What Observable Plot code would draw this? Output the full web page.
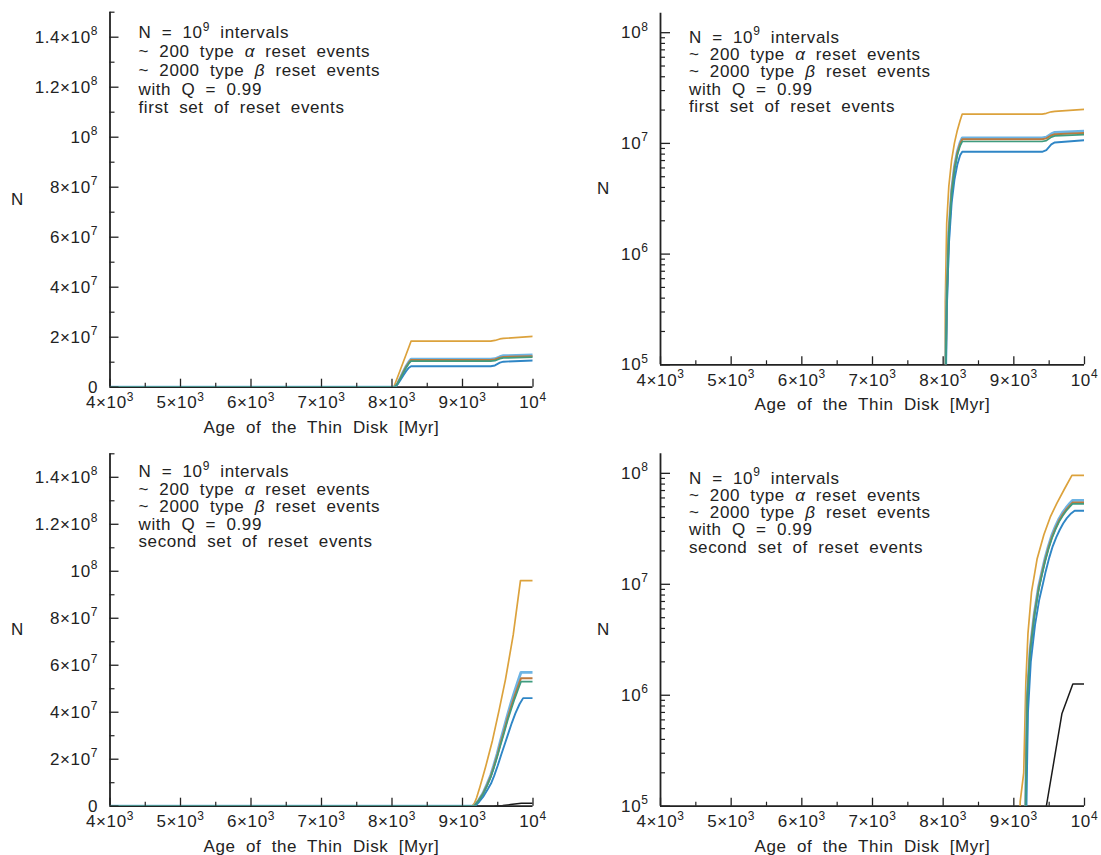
<!DOCTYPE html>
<html><head><meta charset="utf-8">
<script src="https://cdn.jsdelivr.net/npm/d3@7"></script>
<script src="https://cdn.jsdelivr.net/npm/@observablehq/plot@0.6"></script>
<style>
body{margin:0;background:#fff;}
#wrap{position:relative;width:1101px;height:855px;overflow:hidden;background:#fff;}
#wrap svg{position:absolute;overflow:visible;}
</style></head><body><div id="wrap"></div>
<script>
// ---------- tick values & labels ----------
const xMajor = [4000, 5000, 6000, 7000, 8000, 9000, 10000];
const xMajorLabels = ["4×10^3", "5×10^3", "6×10^3", "7×10^3", "8×10^3", "9×10^3", "10^4"];
const xMinor = [4500, 5500, 6500, 7500, 8500, 9500];
const yLinMajor = [0, 2e7, 4e7, 6e7, 8e7, 1e8, 1.2e8, 1.4e8];
const yLinLabels = ["0", "2×10^7", "4×10^7", "6×10^7", "8×10^7", "10^8", "1.2×10^8", "1.4×10^8"];
const yLinMinor = [1e7, 3e7, 5e7, 7e7, 9e7, 1.1e8, 1.3e8, 1.5e8];
const yLogMajor = [1e5, 1e6, 1e7, 1e8];
const yLogLabels = ["10^5", "10^6", "10^7", "10^8"];
const yLogMinor = [2e5,3e5,4e5,5e5,6e5,7e5,8e5,9e5,2e6,3e6,4e6,5e6,6e6,7e6,8e6,9e6,2e7,3e7,4e7,5e7,6e7,7e7,8e7,9e7];
const xDomain = [4000, 10000];
const yLinDomain = [0, 1.5e8];
const yLogDomain = [1e5, 1.5e8];

const xLabel = "Age of the Thin Disk [Myr]";
const yLabel = "N";
const notesFirst = ["N = 10^9 intervals", "~ 200 type α reset events", "~ 2000 type β reset events", "with Q = 0.99", "first set of reset events"];
const notesSecond = ["N = 10^9 intervals", "~ 200 type α reset events", "~ 2000 type β reset events", "with Q = 0.99", "second set of reset events"];

// ---------- first set of reset events ----------
const ages1 = [4000, 8000, 8020, 8030, 8050, 8080, 8120, 8160, 8200, 8240, 8270, 9400, 9460, 9530, 9580, 10000];
const orange1    = [0, 0, 1e3, 3.7e5, 1.9e6, 4.1e6, 7.1e6, 1.01e7, 1.31e7, 1.61e7, 1.84e7, 1.84e7, 1.87e7, 1.93e7, 1.95e7, 2.03e7];
const lightblue1 = [0, 0, 1e3, 5e4, 4e5, 1.6e6, 3.8e6, 6.2e6, 8.4e6, 1.02e7, 1.12e7, 1.12e7, 1.14e7, 1.22e7, 1.26e7, 1.29e7];
const brown1     = [0, 0, 1e3, 4.5e4, 3.8e5, 1.55e6, 3.7e6, 6.0e6, 8.2e6, 9.9e6, 1.09e7, 1.09e7, 1.11e7, 1.18e7, 1.21e7, 1.24e7];
const green1     = [0, 0, 1e3, 4.2e4, 3.6e5, 1.5e6, 3.5e6, 5.7e6, 7.8e6, 9.5e6, 1.04e7, 1.04e7, 1.06e7, 1.14e7, 1.17e7, 1.2e7];
const blue1      = [0, 0, 1e3, 3.5e4, 3.0e5, 1.2e6, 2.9e6, 4.7e6, 6.4e6, 7.8e6, 8.4e6, 8.4e6, 8.7e6, 9.8e6, 1.02e7, 1.07e7];

// ---------- second set of reset events ----------
const orange2Age = [4000, 9060, 9075, 9090, 9140, 9170, 9200, 9250, 9330, 9425, 9520, 9610, 9720, 9822, 10000];
const orange2    = [0, 0, 3e4, 1.1e5, 2e5, 1.3e6, 3.6e6, 8.5e6, 1.7e7, 2.8e7, 4.1e7, 5.4e7, 7.3e7, 9.6e7, 9.6e7];
const group2Age  = [4000, 9150, 9160, 9170, 9190, 9230, 9290, 9350, 9400, 9440, 9490, 9540, 9590, 9640, 9690, 9740, 9790, 9830, 10000];
const lightblue2 = [0, 0, 3e4, 1.5e5, 1e6, 2.6e6, 5.5e6, 9.5e6, 1.32e7, 1.7e7, 2.22e7, 2.8e7, 3.35e7, 3.9e7, 4.42e7, 4.9e7, 5.35e7, 5.7e7, 5.7e7];
const brown2     = [0, 0, 3e4, 1.4e5, 9.5e5, 2.5e6, 5.3e6, 9.1e6, 1.27e7, 1.63e7, 2.13e7, 2.68e7, 3.2e7, 3.75e7, 4.24e7, 4.7e7, 5.12e7, 5.45e7, 5.45e7];
const green2     = [0, 0, 3e4, 1.4e5, 9.2e5, 2.4e6, 5.1e6, 8.8e6, 1.23e7, 1.58e7, 2.07e7, 2.6e7, 3.12e7, 3.65e7, 4.12e7, 4.57e7, 4.98e7, 5.3e7, 5.3e7];
const blue2Age   = [4000, 9160, 9170, 9180, 9200, 9240, 9300, 9360, 9410, 9450, 9500, 9550, 9600, 9650, 9700, 9750, 9810, 9860, 10000];
const blue2      = [0, 0, 3e4, 1.2e5, 7e5, 2.0e6, 4.3e6, 7.3e6, 1.0e7, 1.3e7, 1.73e7, 2.2e7, 2.65e7, 3.1e7, 3.55e7, 3.95e7, 4.35e7, 4.6e7, 4.6e7];
const black2Age  = [4000, 9430, 9445, 9460, 9570, 9680, 9835, 10000];
const black2     = [0, 0, 3e4, 1e5, 2.6e5, 6.8e5, 1.26e6, 1.26e6];

// ---------- styling ----------
const colors = {orange: "#DCA23C", lightblue: "#6DB4E4", brown: "#BC7A3F", green: "#3F9C7F", blue: "#2F86C6", black: "#1a1a1a"};
const widths = {orange: 1.7, lightblue: 2.8, brown: 2.0, green: 1.7, blue: 1.9, black: 1.5};
const ink = "#222";

const set1 = [
  {name: "orange", ages: ages1, vals: orange1},
  {name: "lightblue", ages: ages1, vals: lightblue1},
  {name: "brown", ages: ages1, vals: brown1},
  {name: "blue", ages: ages1, vals: blue1},
  {name: "green", ages: ages1, vals: green1}
];
const set2 = [
  {name: "black", ages: black2Age, vals: black2},
  {name: "orange", ages: orange2Age, vals: orange2},
  {name: "lightblue", ages: group2Age, vals: lightblue2},
  {name: "brown", ages: group2Age, vals: brown2},
  {name: "blue", ages: blue2Age, vals: blue2},
  {name: "green", ages: group2Age, vals: green2}
];

const FS = 17;

function makePanel({set, log, notes, left, top, width, height, margin, noteDy, noteLH, nDx}) {
  const yMajor = log ? yLogMajor : yLinMajor;
  const yLabels = log ? yLogLabels : yLinLabels;
  const yMinor = log ? yLogMinor : yLinMinor;
  const base = log ? yLogDomain[0] : 0;
  const majLen = log ? 10 : 9;
  const marks = [
    Plot.ruleX([xDomain[0]], {stroke: ink, strokeWidth: 1.8}),
    Plot.ruleY([base], {stroke: ink, strokeWidth: 1.8}),
  ];
  for (const s of set) {
    const rows = s.ages.map((a, i) => ({age: a, n: (log && s.vals[i] <= 0) ? NaN : s.vals[i]}));
    marks.push(Plot.line(rows, {x: "age", y: "n", stroke: colors[s.name], strokeWidth: widths[s.name], clip: true}));
  }
  marks.push(
    Plot.axisX({ticks: xMajor, tickSize: 8, dy: -8, tickFormat: () => "", label: null, stroke: ink, strokeWidth: 1.3}),
    Plot.axisX({ticks: xMinor, tickSize: 4, dy: -4, tickFormat: () => "", label: null, stroke: ink, strokeWidth: 1.2}),
    Plot.axisX({ticks: xMajor, tickSize: 0, tickPadding: 9, tickFormat: (d) => xMajorLabels[xMajor.indexOf(d)], label: null, fill: ink}),
    Plot.axisY({ticks: yMajor, tickSize: majLen, dx: majLen, tickFormat: () => "", label: null, stroke: ink, strokeWidth: 1.3}),
    Plot.axisY({ticks: yMinor, tickSize: 5, dx: 5, tickFormat: () => "", label: null, stroke: ink, strokeWidth: 1.2}),
    Plot.axisY({ticks: yMajor, tickSize: 0, tickPadding: 12, tickFormat: (d) => yLabels[yMajor.indexOf(d)], label: null, fill: ink}),
    Plot.text([xLabel], {text: d => d, frameAnchor: "bottom", dy: 40, lineAnchor: "middle", fill: ink}),
    Plot.text([yLabel], {text: d => d, frameAnchor: "left", dx: nDx, textAnchor: "middle", lineAnchor: "middle", fill: ink}),
    Plot.text([notes.join("\n")], {text: d => d, frameAnchor: "top-left", textAnchor: "start", lineAnchor: "top", dx: 28.5, dy: noteDy, lineHeight: noteLH / FS, fill: ink})
  );
  const svg = Plot.plot({
    width, height,
    marginLeft: margin[0], marginRight: margin[1], marginTop: margin[2], marginBottom: margin[3],
    x: {domain: xDomain},
    y: log ? {type: "log", domain: yLogDomain} : {domain: yLinDomain},
    style: {fontFamily: "'Liberation Sans', Arial, sans-serif", fontSize: FS + "px", letterSpacing: "0.6px", wordSpacing: "5px", color: ink, background: "transparent"},
    marks
  });
  svg.style.left = left + "px";
  svg.style.top = top + "px";
  richAll(svg);
  document.getElementById("wrap").appendChild(svg);
}

const NS = "http://www.w3.org/2000/svg";
function rich(el) {
  const s = el.textContent;
  if (!/[\^αβ]/.test(s)) return;
  while (el.firstChild) el.removeChild(el.firstChild);
  const rise = 7.5;
  const add = (txt, attrs) => {
    const t = document.createElementNS(NS, "tspan");
    for (const k in attrs) t.setAttribute(k, attrs[k]);
    t.textContent = txt;
    el.appendChild(t);
  };
  const re = /\^(\d+)|([αβ])/g;
  let last = 0, m, down = false;
  while ((m = re.exec(s))) {
    if (m.index > last) { add(s.slice(last, m.index), down ? {dy: rise} : {}); down = false; }
    if (m[1]) { add(m[1], {dy: -rise, "font-size": "12px"}); down = true; }
    else { add(m[2], Object.assign({"font-style": "italic"}, down ? {dy: rise} : {})); down = false; }
    last = re.lastIndex;
  }
  if (last < s.length) add(s.slice(last), down ? {dy: rise} : {});
}
function richAll(svg) {
  svg.querySelectorAll("text").forEach(t => {
    const spans = t.querySelectorAll("tspan");
    if (spans.length) spans.forEach(rich); else rich(t);
  });
}

makePanel({set: set1, log: false, notes: notesFirst, left: 0, top: 0, width: 550, height: 440, margin: [109.5, 17.5, 11.7, 53.3], noteDy: 12.8, noteLH: 18.75, nDx: -92.5});
makePanel({set: set1, log: true, notes: notesFirst, left: 550, top: 0, width: 551, height: 440, margin: [110, 17, 12.7, 75.7], noteDy: 17.5, noteLH: 17.25, nDx: -57});
makePanel({set: set2, log: false, notes: notesSecond, left: 0, top: 440, width: 550, height: 415, margin: [109.5, 17.5, 13.3, 49.3], noteDy: 10.9, noteLH: 17.5, nDx: -92.5});
makePanel({set: set2, log: true, notes: notesSecond, left: 550, top: 440, width: 551, height: 415, margin: [110, 17, 13.3, 49.3], noteDy: 17.5, noteLH: 17.25, nDx: -57});
</script>
</body></html>
